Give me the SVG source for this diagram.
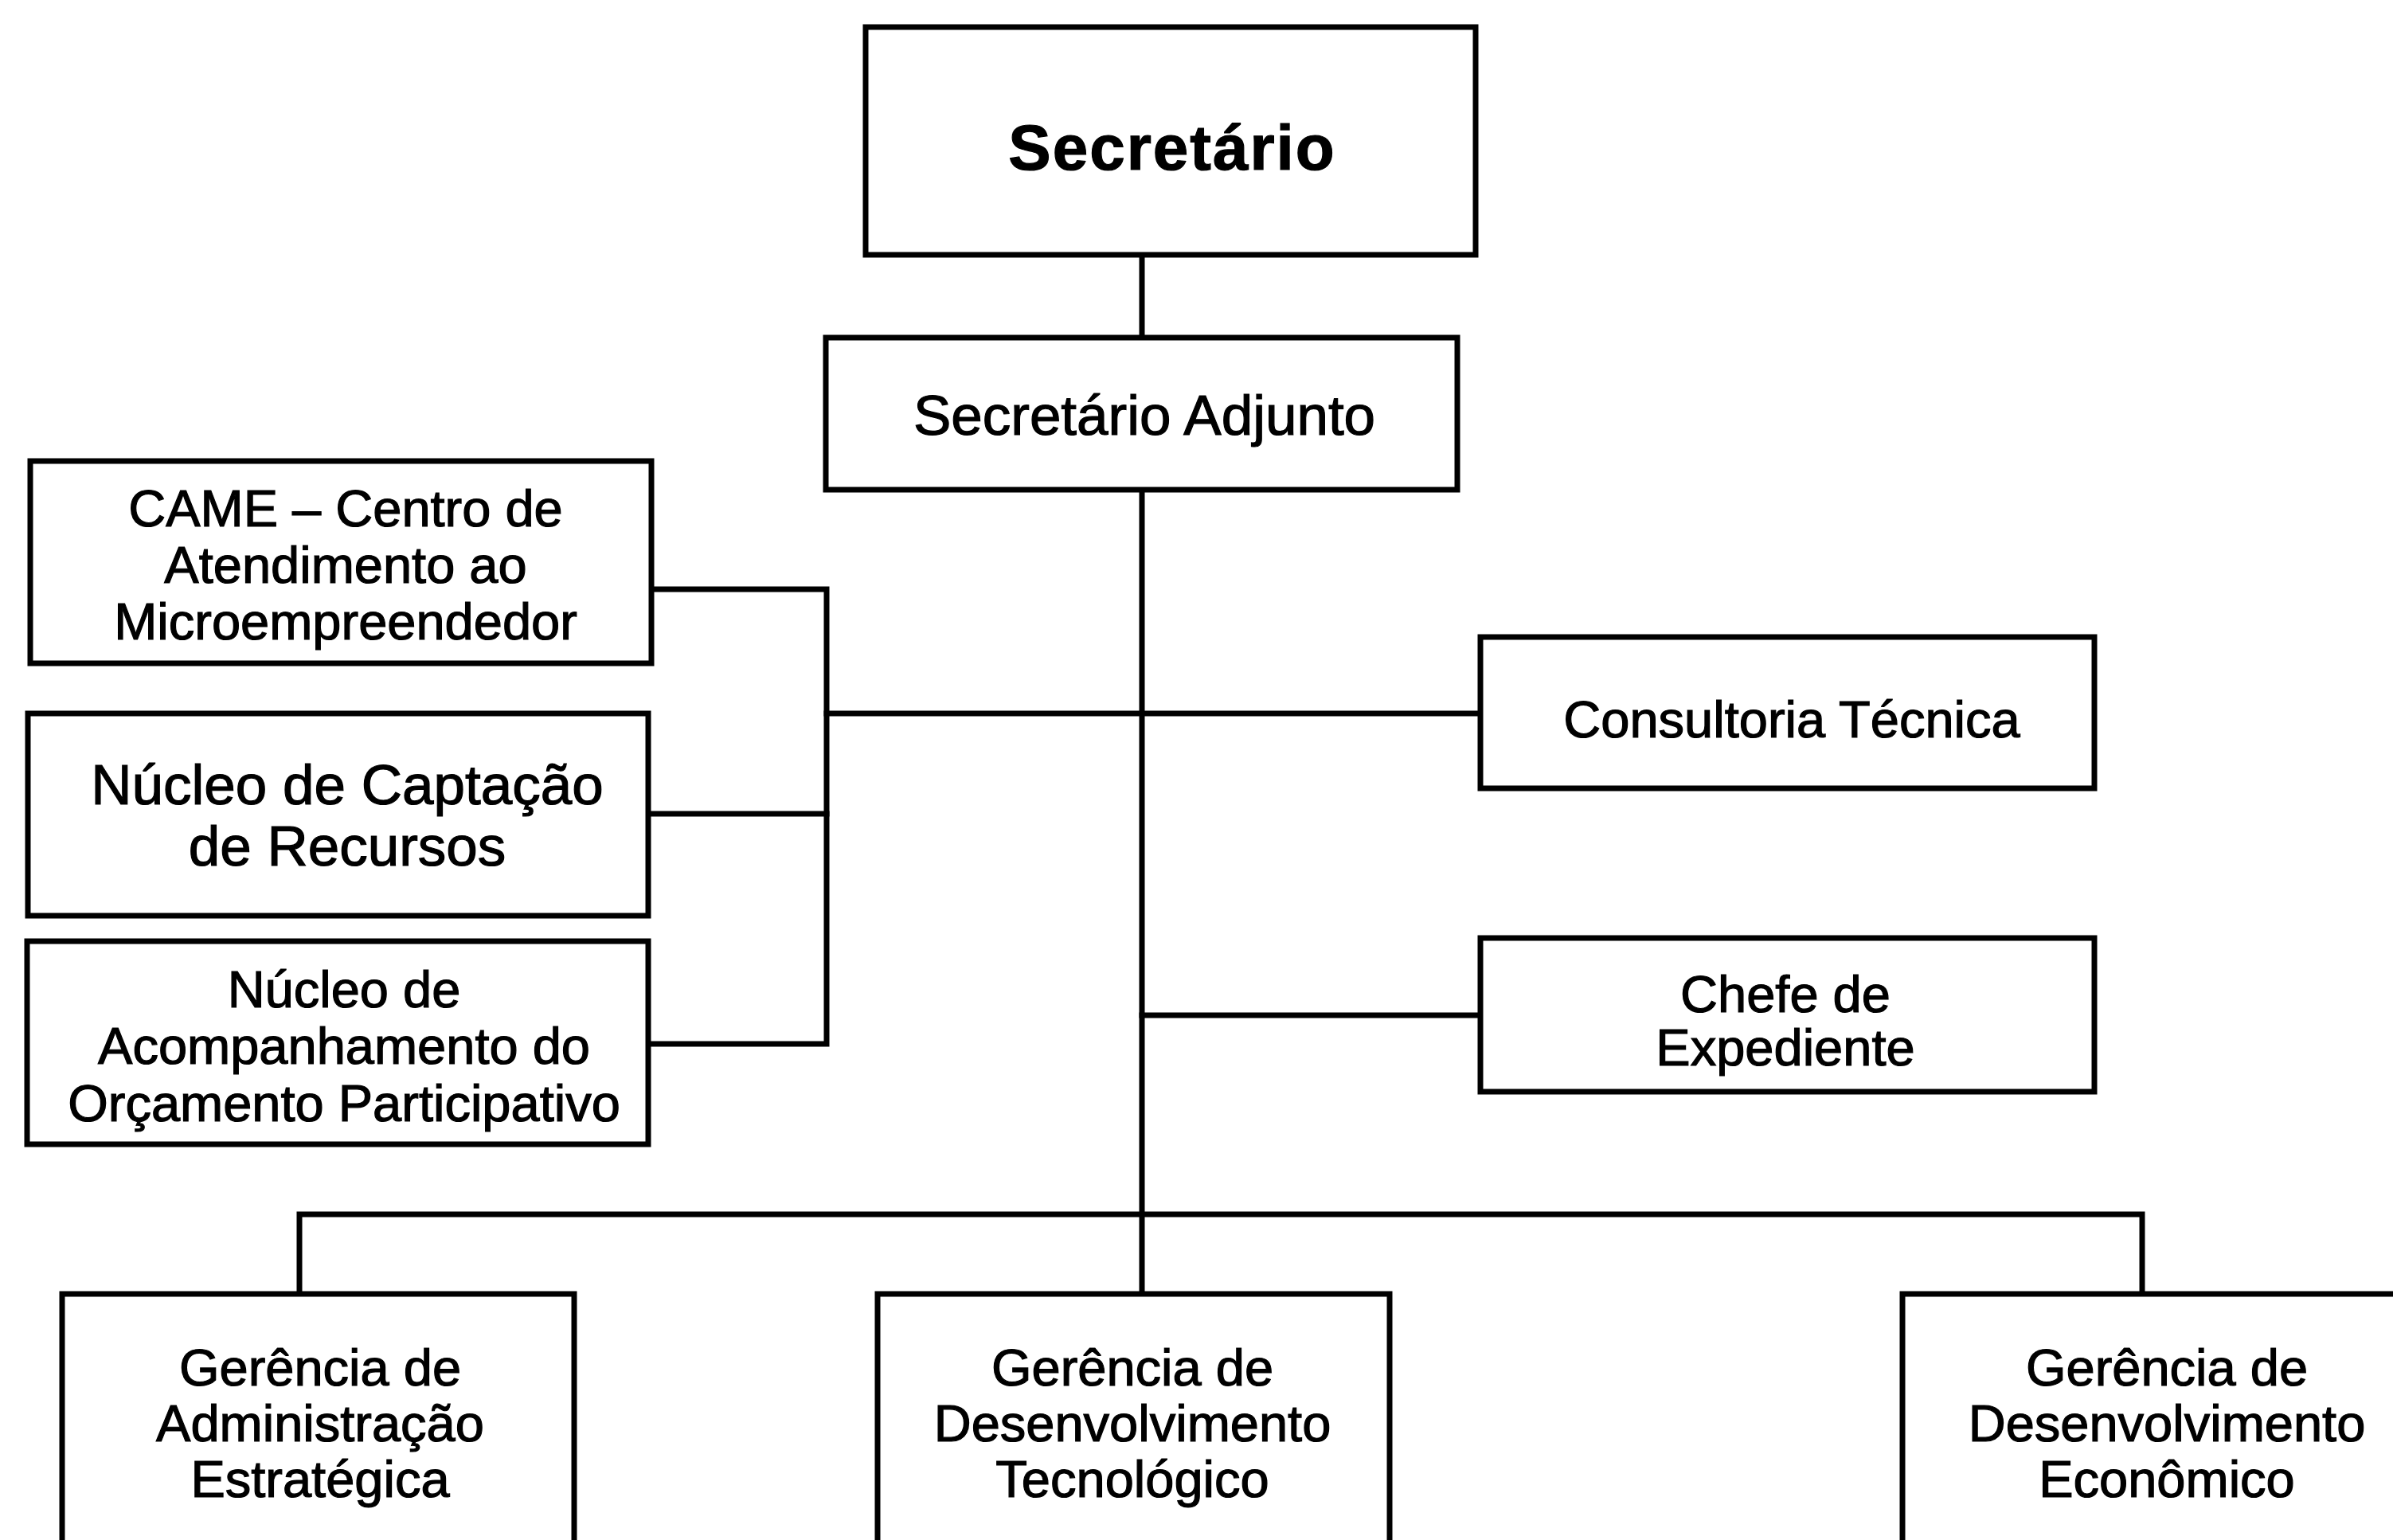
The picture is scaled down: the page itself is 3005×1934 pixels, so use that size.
<svg xmlns="http://www.w3.org/2000/svg" width="3005" height="1934" viewBox="0 0 3005 1934">
<style>
.box{fill:#fff;stroke:#000;stroke-width:7}
.ln{fill:none;stroke:#000;stroke-width:7;stroke-linecap:square}
text{font-family:"Liberation Sans",Arial,sans-serif;fill:#000;stroke:#000;stroke-width:1.2;text-anchor:middle}
.t{font-size:65px}
.tb{font-size:80px;font-weight:bold;letter-spacing:2px}
.tl{font-size:71px}
</style>
<rect width="3005" height="1934" fill="#fff"/>
<g id="connectors">
<line class="ln" x1="1434" y1="320" x2="1434" y2="424"/>
<line class="ln" x1="1434" y1="615" x2="1434" y2="1625"/>
<polyline class="ln" points="818,740 1038,740 1038,1311 814,1311"/>
<line class="ln" x1="814" y1="1022" x2="1038" y2="1022"/>
<line class="ln" x1="1038" y1="896" x2="1859" y2="896"/>
<line class="ln" x1="1434" y1="1275" x2="1859" y2="1275"/>
<polyline class="ln" points="376,1625 376,1525 2690,1525 2690,1625"/>
</g>
<g id="secretario">
<rect class="box" x="1087" y="34" width="766" height="286"/>
<text class="tb" x="1472" y="213">Secretário</text>
</g>
<g id="adjunto">
<rect class="box" x="1037" y="424" width="793" height="191"/>
<text class="tl" x="1437" y="546">Secretário Adjunto</text>
</g>
<g id="came">
<rect class="box" x="38" y="579" width="780" height="254"/>
<text class="t" x="434" y="661">CAME – Centro de</text>
<text class="t" x="434" y="732">Atendimento ao</text>
<text class="t" x="434" y="803">Microempreendedor</text>
</g>
<g id="captacao">
<rect class="box" x="35" y="896" width="779" height="254"/>
<text class="tl" x="436" y="1010">Núcleo de Captação</text>
<text class="tl" x="436" y="1087">de Recursos</text>
</g>
<g id="acompanhamento">
<rect class="box" x="34" y="1182" width="780" height="255"/>
<text class="t" x="432" y="1265">Núcleo de</text>
<text class="t" x="432" y="1336">Acompanhamento do</text>
<text class="t" x="432" y="1408">Orçamento Participativo</text>
</g>
<g id="consultoria">
<rect class="box" x="1859" y="800" width="771" height="190"/>
<text class="t" x="2250" y="926">Consultoria Técnica</text>
</g>
<g id="chefe">
<rect class="box" x="1859" y="1178" width="771" height="193"/>
<text class="t" x="2242" y="1271">Chefe de</text>
<text class="t" x="2242" y="1338">Expediente</text>
</g>
<g id="ger-admin">
<rect class="box" x="78" y="1625" width="643" height="360"/>
<text class="t" x="402" y="1740">Gerência de</text>
<text class="t" x="402" y="1810">Administração</text>
<text class="t" x="402" y="1880">Estratégica</text>
</g>
<g id="ger-tec">
<rect class="box" x="1102" y="1625" width="643" height="360"/>
<text class="t" x="1422" y="1740">Gerência de</text>
<text class="t" x="1422" y="1810">Desenvolvimento</text>
<text class="t" x="1422" y="1880">Tecnológico</text>
</g>
<g id="ger-eco">
<rect class="box" x="2389" y="1625" width="660" height="360"/>
<text class="t" x="2721" y="1740">Gerência de</text>
<text class="t" x="2721" y="1810">Desenvolvimento</text>
<text class="t" x="2721" y="1880">Econômico</text>
</g>
</svg>
